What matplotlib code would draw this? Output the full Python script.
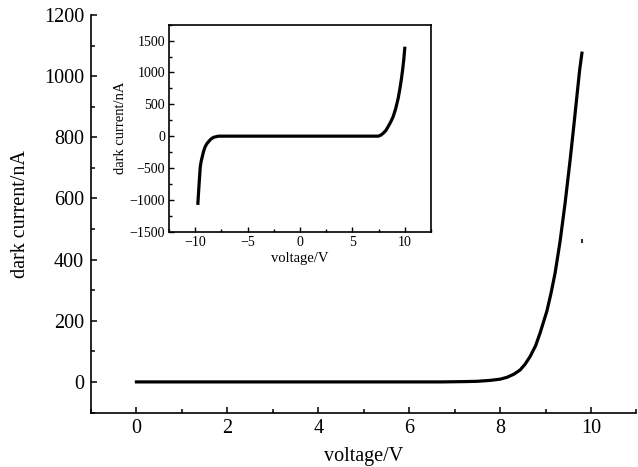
import matplotlib
matplotlib.use("Agg")
import matplotlib.pyplot as plt
from matplotlib.ticker import MultipleLocator

plt.rcParams['font.family'] = ['Liberation Serif', 'DejaVu Serif']
plt.rcParams['axes.unicode_minus'] = True

# main curve: dark current vs forward voltage (0..~10 V)
main_v = [0.0, 1.0, 2.0, 3.0, 4.0, 5.0, 6.0, 6.7, 7.2, 7.5, 7.78, 8.0, 8.15, 8.3,
          8.44, 8.55, 8.66, 8.78, 8.88, 9.03, 9.12, 9.21, 9.32, 9.43, 9.54, 9.62,
          9.69, 9.75, 9.8]
main_i = [0, 0, 0, 0, 0, 0, 0, 0, 1, 2, 5, 9, 15, 25,
          39, 58, 83, 118, 160, 232, 290, 356, 460, 585, 725, 835,
          935, 1020, 1075]

# stray tick mark visible in the figure
mark_v = [9.8]
mark_i = [462]

# inset curve: full sweep -10..10 V
inset_v = [-9.75, -9.7, -9.65, -9.58, -9.52, -9.43, -9.33, -9.2, -9.05, -8.9, -8.73, -8.5,
           -8.25, -7.78, -6.0, -3.0, 0.0, 3.0, 6.0, 7.46, 7.7, 7.94, 8.2, 8.41, 8.65,
           8.89, 9.13, 9.37, 9.55, 9.68, 9.8, 9.9, 10.0]
inset_i = [-1055, -920, -793, -620, -479, -390, -322, -235, -165, -120, -86, -45,
           -18, 0, 0, 0, 0, 0, 0, 0, 15, 45, 90, 150, 220,
           306, 430, 594, 760, 900, 1050, 1196, 1380]

fig = plt.figure(figsize=(6.38, 4.67), dpi=100)

# main axes
ax = fig.add_axes([0.1426, 0.1167, 0.855, 0.8513])
ax.plot(main_v, main_i, color='black', linewidth=2.3, solid_joinstyle='round')
ax.plot(mark_v, mark_i, linestyle='none', marker='|', color='black',
        markersize=3.5, markeredgewidth=1.2)
ax.set_xlim(-1, 11)
ax.set_ylim(-100, 1200)
ax.xaxis.set_major_locator(MultipleLocator(2))
ax.xaxis.set_minor_locator(MultipleLocator(1))
ax.yaxis.set_major_locator(MultipleLocator(200))
ax.yaxis.set_minor_locator(MultipleLocator(100))
ax.tick_params(which='both', direction='in', top=False, right=False,
               labelsize=14.5, width=1.1, pad=5)
ax.tick_params(which='major', length=4)
ax.tick_params(which='minor', length=3)
ax.spines['top'].set_visible(False)
ax.spines['right'].set_visible(False)
for s in ('left', 'bottom'):
    ax.spines[s].set_linewidth(1.2)
ax.set_xlabel('voltage/V', fontsize=14.5, labelpad=6)
ax.set_ylabel('dark current/nA', fontsize=14.5, labelpad=10)

# inset axes
ins = fig.add_axes([0.265, 0.5039, 0.4105, 0.4432])
ins.plot(inset_v, inset_i, color='black', linewidth=2.3, solid_joinstyle='round')
ins.set_xlim(-12.5, 12.5)
ins.set_ylim(-1500, 1750)
ins.xaxis.set_major_locator(MultipleLocator(5))
ins.xaxis.set_minor_locator(MultipleLocator(2.5))
ins.yaxis.set_major_locator(MultipleLocator(500))
ins.yaxis.set_minor_locator(MultipleLocator(250))
ins.tick_params(which='both', direction='in', top=False, right=False,
                labelsize=10, width=1.0, pad=3)
ins.tick_params(which='major', length=3.5)
ins.tick_params(which='minor', length=2.5)
for s in ins.spines.values():
    s.set_linewidth(1.2)
ins.set_xlabel('voltage/V', fontsize=10.5, labelpad=2)
ins.set_ylabel('dark current/nA', fontsize=10.5, labelpad=2)

fig.savefig('out.png', dpi=100)
